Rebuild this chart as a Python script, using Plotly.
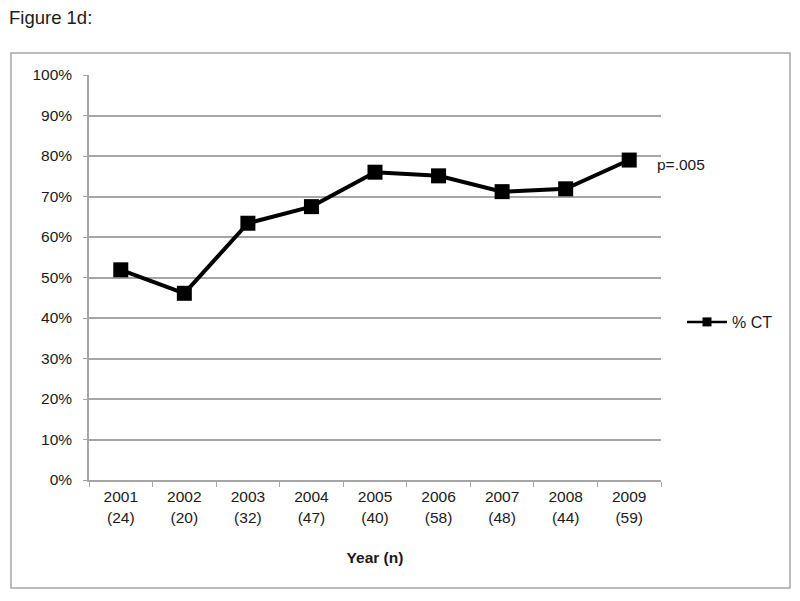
import plotly.graph_objects as go

years = ["2001", "2002", "2003", "2004", "2005", "2006", "2007", "2008", "2009"]
counts = [24, 20, 32, 47, 40, 58, 48, 44, 59]
pct_ct = [0.519, 0.461, 0.634, 0.675, 0.760, 0.751, 0.712, 0.719, 0.790]
y_ticks = [i / 10 for i in range(11)]

x_labels = [f"{y}<br>({n})" for y, n in zip(years, counts)]

grey = "#a6a6a6"
txt = "#1a1a1a"
font = "Liberation Sans, Arial, sans-serif"

# the page body has an 8px margin; figure is placed at (8, 8) in the window
OFF = 8
W, H = 800 - OFF, 601 - OFF

fig = go.Figure()
fig.add_trace(go.Scatter(
    x=x_labels, y=pct_ct, mode="lines+markers", name="% CT", showlegend=False,
    line=dict(color="black", width=4),
    marker=dict(symbol="square", size=15, color="black"),
))
# legend entry (smaller symbol, as in the reference legend)
fig.add_trace(go.Scatter(
    x=[None], y=[None], mode="lines+markers", name="% CT", showlegend=True,
    line=dict(color="black", width=2.5),
    marker=dict(symbol="square", size=9, color="black"),
))

# reference-window pixel positions, converted to figure pixels
px_left, px_right, px_top, px_bottom = 89 - OFF, 661 - OFF, 75 - OFF, 480 - OFF
L, R, T, B = px_left, W - px_right, px_top, H - px_bottom
pw = px_right - px_left
ph = px_bottom - px_top


def fx(x):
    return (x - OFF - px_left) / pw


def fy(y):
    return (px_bottom - (y - OFF)) / ph


fig.update_layout(
    width=W, height=H,
    margin=dict(l=L, r=R, t=T, b=B, pad=0, autoexpand=False),
    paper_bgcolor="white", plot_bgcolor="white",
    font=dict(family=font, size=15.5, color=txt),
    showlegend=True,
    legend=dict(x=fx(682), y=fy(322), xanchor="left", yanchor="middle",
                font=dict(size=16, color=txt), bgcolor="rgba(0,0,0,0)",
                itemwidth=40, tracegroupgap=0),
    xaxis=dict(
        type="category", range=[-0.5, len(years) - 0.5], automargin=False,
        showgrid=False, showline=True, linecolor=grey, linewidth=1.5,
        ticks="outside", tickson="boundaries", ticklen=5, tickcolor=grey,
        tickfont=dict(size=15.5, color=txt), ticklabelstandoff=2,
        title=dict(text="<b>Year (n)</b>", font=dict(size=15.5, color=txt), standoff=28),
    ),
    yaxis=dict(
        range=[0, 1], tickvals=y_ticks, tickformat=".0%", showgrid=True, automargin=False,
        gridcolor=grey, gridwidth=1.5, showline=True, linecolor=grey, linewidth=1.5,
        ticks="outside", ticklen=4, tickcolor=grey, zeroline=False,
        tickfont=dict(size=15.5, color=txt), ticklabelstandoff=8,
    ),
    annotations=[
        dict(text="Figure 1d:", xref="paper", yref="paper",
             x=fx(7), y=fy(18), xanchor="left", yanchor="middle",
             showarrow=False, font=dict(size=18.5, color=txt)),
        dict(text="p=.005", x=x_labels[-1], y=pct_ct[-1], xanchor="left", yanchor="middle",
             xshift=26, yshift=-4, showarrow=False, font=dict(size=15.5, color=txt)),
    ],
    shapes=[
        dict(type="rect", xref="paper", yref="paper",
             x0=fx(11), x1=fx(790), y0=fy(588), y1=fy(53),
             line=dict(color=grey, width=1.5), fillcolor="rgba(0,0,0,0)", layer="below"),
    ],
)

fig.write_html("out.html")
